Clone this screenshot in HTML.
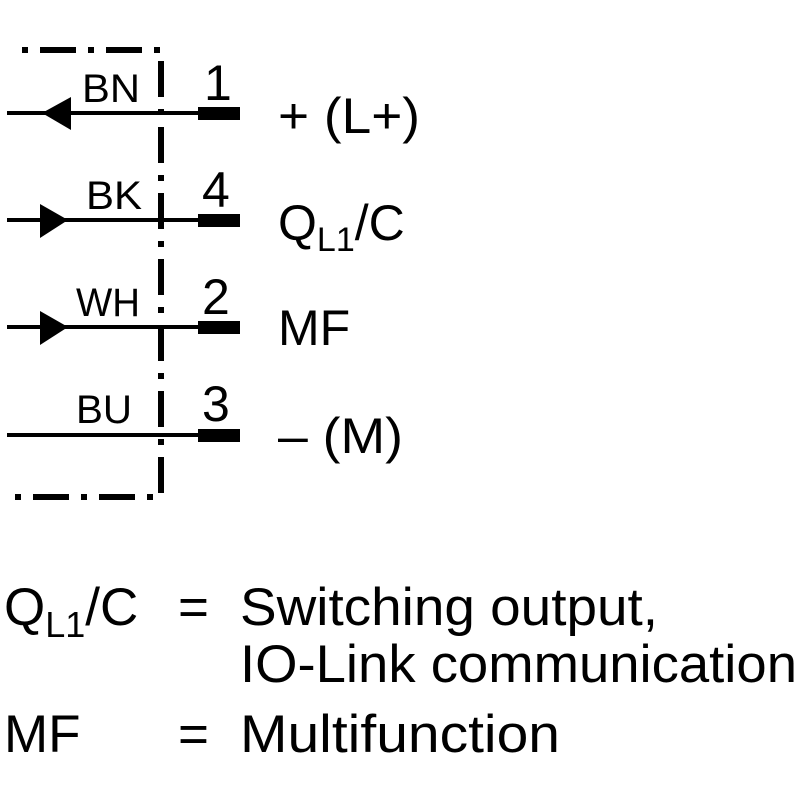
<!DOCTYPE html>
<html><head><style>html,body{margin:0;padding:0;background:#fff}</style></head>
<body>
<svg width="800" height="800" viewBox="0 0 800 800" xmlns="http://www.w3.org/2000/svg" font-family="Liberation Sans, sans-serif" fill="#000">
<g stroke="#000" stroke-width="6" fill="none">
<path d="M10 50 H161 V497 H10" stroke-dasharray="36 12 6 12" stroke-dashoffset="-30"/>
</g>
<g stroke="#000" stroke-width="4">
<line x1="7" y1="113" x2="200" y2="113"/>
<line x1="7" y1="220" x2="200" y2="220"/>
<line x1="7" y1="327" x2="200" y2="327"/>
<line x1="7" y1="435" x2="200" y2="435"/>
</g>
<rect x="198" y="107" width="42" height="13"/>
<rect x="198" y="214" width="42" height="13"/>
<rect x="198" y="321" width="42" height="13"/>
<rect x="198" y="429" width="42" height="13"/>
<polygon points="42,113 71,97 71,130"/>
<polygon points="68,220 40,204 40,238"/>
<polygon points="68,327 40,311 40,345"/>
<g font-size="40">
<text x="82" y="102" textLength="58" lengthAdjust="spacingAndGlyphs">BN</text>
<text x="86" y="209" textLength="56" lengthAdjust="spacingAndGlyphs">BK</text>
<text x="76" y="316" textLength="64" lengthAdjust="spacingAndGlyphs">WH</text>
<text x="76" y="423" textLength="56" lengthAdjust="spacingAndGlyphs">BU</text>
</g>
<g font-size="50">
<text x="204" y="100">1</text>
<text x="202" y="207">4</text>
<text x="202" y="314">2</text>
<text x="202" y="421">3</text>
<text x="278" y="133" textLength="142" lengthAdjust="spacingAndGlyphs">+ (L+)</text>
<text x="278" y="240">Q<tspan font-size="34" dy="11">L1</tspan><tspan dy="-11">/C</tspan></text>
<text x="278" y="345">MF</text>
<text x="278" y="453" textLength="125" lengthAdjust="spacingAndGlyphs">– (M)</text>
</g>
<g font-size="53">
<text x="4" y="625">Q<tspan font-size="36" dy="12">L1</tspan><tspan dy="-12">/C</tspan></text>
<text x="178" y="625">=</text>
<text x="240" y="625" textLength="418" lengthAdjust="spacingAndGlyphs">Switching output,</text>
<text x="240" y="682" textLength="557" lengthAdjust="spacingAndGlyphs">IO-Link communication</text>
<text x="4" y="752">MF</text>
<text x="178" y="752">=</text>
<text x="240" y="752" textLength="320" lengthAdjust="spacingAndGlyphs">Multifunction</text>
</g>
</svg>
</body></html>
